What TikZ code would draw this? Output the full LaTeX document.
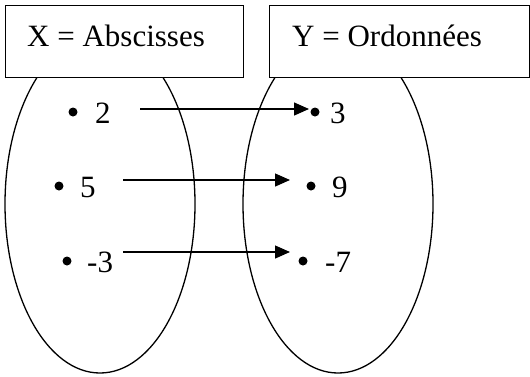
\documentclass[tikz,border=0pt]{standalone}
\usepackage{fontspec}
\setmainfont{Liberation Serif}
\newfontfamily\tnr{Liberation Serif}
\usetikzlibrary{shapes.geometric,arrows.meta}
\tikzset{
  setell/.style={draw, line width=1.3pt, ellipse, minimum width=190pt, minimum height=338pt, inner sep=0pt},
  titlebox/.style={draw, line width=1.4pt, fill=white, anchor=north west, minimum height=72pt, inner sep=0pt},
  title/.style={anchor=base west, inner sep=0pt, font=\tnr\fontsize{31}{37}\selectfont},
  num/.style={anchor=base west, inner sep=0pt, font=\tnr\fontsize{31}{37}\selectfont},
  pt/.style={circle, fill=black, minimum size=9pt, inner sep=0pt},
  maparrow/.style={line width=1.3pt, -{Triangle[length=15pt,width=13pt]}}
}
\begin{document}
\begin{tikzpicture}[x=1pt,y=-1pt]
\useasboundingbox (0,0) rectangle (530,376);
% sets
\node[setell] (EX) at (100,204) {};
\node[setell] (EY) at (338,204) {};
% header boxes
\node[titlebox, minimum width=238pt] (BX) at (5,5) {};
\node[titlebox, minimum width=260pt] (BY) at (269,5) {};
\node[title] (TX) at (27,46) {X = Abscisses};
\node[title] (TY) at (292,46) {Y = Ordonnées};
% elements of X
\node[pt] (x1) at (73,112) {};
\node[num] (n1) at (95,123) {2};
\node[pt] (x2) at (59,186) {};
\node[num] (n2) at (80,197) {5};
\node[pt] (x3) at (67,261) {};
\node[num] (n3) at (87,272) {-3};
% elements of Y
\node[pt] (y1) at (315,112) {};
\node[num] (m1) at (330,123) {3};
\node[pt] (y2) at (311,186) {};
\node[num] (m2) at (332,197) {9};
\node[pt] (y3) at (303,261) {};
\node[num] (m3) at (325,272) {-7};
% arrows
\coordinate (s1) at (140,109);
\coordinate (e1) at (309,109);
\coordinate (s2) at (123,180);
\coordinate (e2) at (290,180);
\coordinate (s3) at (123,252);
\coordinate (e3) at (290,252);
\draw[maparrow] (s1) -- (e1);
\draw[maparrow] (s2) -- (e2);
\draw[maparrow] (s3) -- (e3);
\end{tikzpicture}
\end{document}
